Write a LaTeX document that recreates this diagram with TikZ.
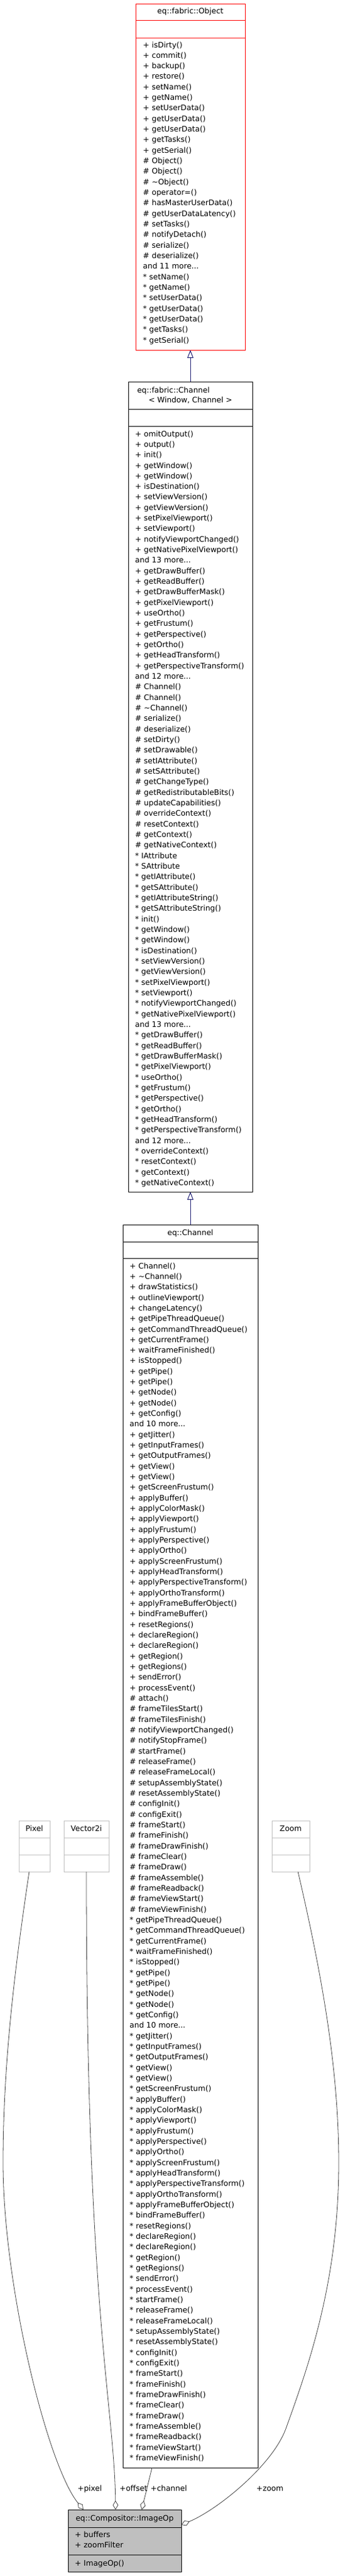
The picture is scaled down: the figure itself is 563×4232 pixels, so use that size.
\documentclass[tikz,border=0pt]{standalone}
\usepackage{fontspec}
\setmainfont{DejaVu Sans}
\usetikzlibrary{arrows.meta,calc}
\definecolor{edgegray}{HTML}{404040}
\definecolor{boxgray}{HTML}{BFBFBF}
\definecolor{inhblue}{HTML}{191970}
\newcommand\andmore[1]{and #1 more...}
\begin{document}
\begin{tikzpicture}[x=1pt, y=-1pt,
        font=\fontsize{12.5}{17.33}\selectfont,
        umlbox/.style 2 args={draw, line width=1pt, minimum width=#1, minimum height=#2, inner sep=0pt, outer sep=0pt, anchor=north west},
        member/.style={anchor=base west, inner sep=0pt},
        inherit/.style={draw=inhblue, line width=1pt, -{Triangle[open, length=13pt, width=10pt, fill=white]}},
        usage/.style={draw=edgegray, line width=0.8pt, -{Diamond[open, length=15pt, width=9pt, fill=white]}}]
                \useasboundingbox (0,0) rectangle (563,4232);
                \node[umlbox={180pt}{569pt}, draw=red] (object) at (223,6) {};
                \node[umlbox={204pt}{1331pt}] (fabchannel) at (211,627) {};
                \node[umlbox={222pt}{2042pt}] (channel) at (202,2012) {};
                \node[umlbox={51pt}{84pt}, draw=boxgray] (pixel) at (31,2991) {};
                \node[umlbox={74pt}{84pt}, draw=boxgray] (vector) at (105,2991) {};
                \node[umlbox={62pt}{84pt}, draw=boxgray] (zoom) at (447,2991) {};
                \node[umlbox={186pt}{102pt}, fill=boxgray] (imageop) at (112,4123) {};
                \begin{scope}[red, line width=1pt]
                    \draw ($(object.north west)+(0,27)$) -- ($(object.north east)+(0,27)$);
                    \draw ($(object.north west)+(0,56)$) -- ($(object.north east)+(0,56)$);
                \end{scope}
                \begin{scope}[line width=1pt]
                    \draw ($(fabchannel.north west)+(0,45)$) -- ($(fabchannel.north east)+(0,45)$);
                    \draw ($(fabchannel.north west)+(0,73)$) -- ($(fabchannel.north east)+(0,73)$);
                    \draw ($(channel.north west)+(0,28)$) -- ($(channel.north east)+(0,28)$);
                    \draw ($(channel.north west)+(0,55.5)$) -- ($(channel.north east)+(0,55.5)$);
                    \draw ($(imageop.north west)+(0,29)$) -- ($(imageop.north east)+(0,29)$);
                    \draw ($(imageop.north west)+(0,74)$) -- ($(imageop.north east)+(0,74)$);
                \end{scope}
                \begin{scope}[boxgray, line width=1pt]
                    \draw ($(pixel.north west)+(0,28)$) -- ($(pixel.north east)+(0,28)$);
                    \draw ($(pixel.north west)+(0,56)$) -- ($(pixel.north east)+(0,56)$);
                    \draw ($(vector.north west)+(0,28)$) -- ($(vector.north east)+(0,28)$);
                    \draw ($(vector.north west)+(0,56)$) -- ($(vector.north east)+(0,56)$);
                    \draw ($(zoom.north west)+(0,28)$) -- ($(zoom.north east)+(0,28)$);
                    \draw ($(zoom.north west)+(0,56)$) -- ($(zoom.north east)+(0,56)$);
                \end{scope}
                \node[anchor=base] (objecttitle) at ($(object.north)+(0,16.5)$) {eq::fabric::Object};
                \node[anchor=base west] (fabtitle) at ($(fabchannel.north west)+(11,18)$) {eq::fabric::Channel};
                \node[anchor=base] (fabparams) at ($(fabchannel.north)+(0,34.5)$) {< Window, Channel >};
                \node[anchor=base] (channeltitle) at ($(channel.north)+(0,17)$) {eq::Channel};
                \node[anchor=base] (pixeltitle) at ($(pixel.north)+(0,17.5)$) {Pixel};
                \node[anchor=base] (vectortitle) at ($(vector.north)+(0,17.5)$) {Vector2i};
                \node[anchor=base] (zoomtitle) at ($(zoom.north)+(0,17.5)$) {Zoom};
                \node[anchor=base] (imageoptitle) at ($(imageop.north)+(0,18.5)$) {eq::Compositor::ImageOp};
                \node[member] (imageopattr1) at ($(imageop.north west)+(11,45.5)$) {+ buffers};
                \node[member] (imageopattr2) at ($(imageop.north west)+(11,62.8)$) {+ zoomFilter};
                \node[member] (imageopop1) at ($(imageop.north west)+(11,92)$) {+ ImageOp()};
                \foreach \m [count=\i from 0] in {+ isDirty(),+ commit(),+ backup(),+ restore(),+ setName(),+ getName(),+ setUserData(),+ getUserData(),+ getUserData(),+ getTasks(),+ getSerial(),
                    \# Object(),\# Object(),\# \textasciitilde Object(),\# operator=(),\# hasMasterUserData(),\# getUserDataLatency(),\# setTasks(),\# notifyDetach(),\# serialize(),\# deserialize(),\andmore{11},
                    * setName(),* getName(),* setUserData(),* getUserData(),* getUserData(),* getTasks(),* getSerial()}
                    \node[member] (objectop\i) at ($(object.north west)+(12,{72+17.33*\i})$) {\m};
                \foreach \m [count=\i from 0] in {+ omitOutput(),+ output(),+ init(),+ getWindow(),+ getWindow(),+ isDestination(),+ setViewVersion(),+ getViewVersion(),+ setPixelViewport(),+ setViewport(),+ notifyViewportChanged(),+ getNativePixelViewport(),\andmore{13},
                    + getDrawBuffer(),+ getReadBuffer(),+ getDrawBufferMask(),+ getPixelViewport(),+ useOrtho(),+ getFrustum(),+ getPerspective(),+ getOrtho(),+ getHeadTransform(),+ getPerspectiveTransform(),\andmore{12},
                    \# Channel(),\# Channel(),\# \textasciitilde Channel(),\# serialize(),\# deserialize(),\# setDirty(),\# setDrawable(),\# setIAttribute(),\# setSAttribute(),\# getChangeType(),\# getRedistributableBits(),\# updateCapabilities(),\# overrideContext(),\# resetContext(),\# getContext(),\# getNativeContext(),
                    * IAttribute,* SAttribute,* getIAttribute(),* getSAttribute(),* getIAttributeString(),* getSAttributeString(),* init(),* getWindow(),* getWindow(),* isDestination(),* setViewVersion(),* getViewVersion(),* setPixelViewport(),* setViewport(),* notifyViewportChanged(),* getNativePixelViewport(),\andmore{13},
                    * getDrawBuffer(),* getReadBuffer(),* getDrawBufferMask(),* getPixelViewport(),* useOrtho(),* getFrustum(),* getPerspective(),* getOrtho(),* getHeadTransform(),* getPerspectiveTransform(),\andmore{12},
                    * overrideContext(),* resetContext(),* getContext(),* getNativeContext()}
                    \node[member] (fabchannelop\i) at ($(fabchannel.north west)+(11,{90+17.33*\i})$) {\m};
                \foreach \m [count=\i from 0] in {+ Channel(),+ \textasciitilde Channel(),+ drawStatistics(),+ outlineViewport(),+ changeLatency(),+ getPipeThreadQueue(),+ getCommandThreadQueue(),+ getCurrentFrame(),+ waitFrameFinished(),+ isStopped(),+ getPipe(),+ getPipe(),+ getNode(),+ getNode(),+ getConfig(),\andmore{10},
                    + getJitter(),+ getInputFrames(),+ getOutputFrames(),+ getView(),+ getView(),+ getScreenFrustum(),+ applyBuffer(),+ applyColorMask(),+ applyViewport(),+ applyFrustum(),+ applyPerspective(),+ applyOrtho(),+ applyScreenFrustum(),+ applyHeadTransform(),+ applyPerspectiveTransform(),+ applyOrthoTransform(),+ applyFrameBufferObject(),+ bindFrameBuffer(),+ resetRegions(),+ declareRegion(),+ declareRegion(),+ getRegion(),+ getRegions(),+ sendError(),+ processEvent(),
                    \# attach(),\# frameTilesStart(),\# frameTilesFinish(),\# notifyViewportChanged(),\# notifyStopFrame(),\# startFrame(),\# releaseFrame(),\# releaseFrameLocal(),\# setupAssemblyState(),\# resetAssemblyState(),\# configInit(),\# configExit(),\# frameStart(),\# frameFinish(),\# frameDrawFinish(),\# frameClear(),\# frameDraw(),\# frameAssemble(),\# frameReadback(),\# frameViewStart(),\# frameViewFinish(),
                    * getPipeThreadQueue(),* getCommandThreadQueue(),* getCurrentFrame(),* waitFrameFinished(),* isStopped(),* getPipe(),* getPipe(),* getNode(),* getNode(),* getConfig(),\andmore{10},
                    * getJitter(),* getInputFrames(),* getOutputFrames(),* getView(),* getView(),* getScreenFrustum(),* applyBuffer(),* applyColorMask(),* applyViewport(),* applyFrustum(),* applyPerspective(),* applyOrtho(),* applyScreenFrustum(),* applyHeadTransform(),* applyPerspectiveTransform(),* applyOrthoTransform(),* applyFrameBufferObject(),* bindFrameBuffer(),* resetRegions(),* declareRegion(),* declareRegion(),* getRegion(),* getRegions(),* sendError(),* processEvent(),
                    * startFrame(),* releaseFrame(),* releaseFrameLocal(),* setupAssemblyState(),* resetAssemblyState(),* configInit(),* configExit(),* frameStart(),* frameFinish(),* frameDrawFinish(),* frameClear(),* frameDraw(),* frameAssemble(),* frameReadback(),* frameViewStart(),* frameViewFinish()}
                    \node[member] (channelop\i) at ($(channel.north west)+(11,{72+17.33*\i})$) {\m};
                \draw[inherit] (fabchannel.north) -- (object.south);
                \draw[inherit] (channel.north) -- (fabchannel.south);
                \draw[usage] ([xshift=-8.5pt]pixel.south) .. controls (24,3235) and (5,3393) .. (5,3553) .. controls (5,3753) and (77,4048) .. ([xshift=-68pt]imageop.north);
                \draw[usage] (vector.south) .. controls (142,3800) and (188,3950) .. ([xshift=-15pt]imageop.north);
                \draw[usage] ([xshift=-63pt]channel.south) -- ([xshift=28pt]imageop.north);
                \draw[usage] ([xshift=12pt]zoom.south) .. controls (527,3235) and (557,3393) .. (557,3553) .. controls (557,3750) and (506,3890) .. (470,3990) .. controls (448,4050) and (358,4123) .. ($(imageop.north east)+(0,25)$);
                \node[anchor=base west] (pixellabel) at (124,4092.5) {+pixel};
                \node[anchor=base west] (offsetlabel) at (193,4092.5) {+offset};
                \node[anchor=base west] (channellabel) at (244,4092.5) {+channel};
                \node[anchor=base west] (zoomlabel) at (418,4092.5) {+zoom};
            \end{tikzpicture}
\end{document}
